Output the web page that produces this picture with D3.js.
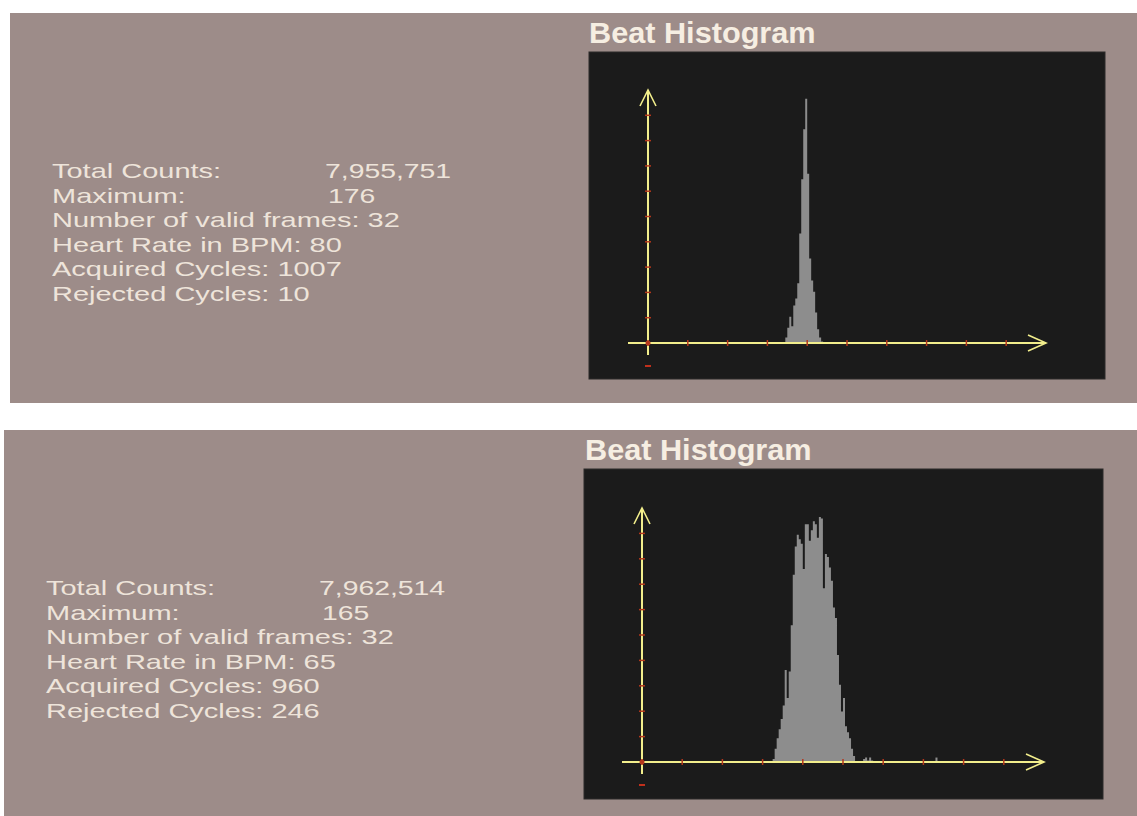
<!DOCTYPE html>
<html>
<head>
<meta charset="utf-8">
<script src="https://cdn.jsdelivr.net/npm/d3@7/dist/d3.min.js"></script>
<style>
  html, body { margin: 0; padding: 0; background: #ffffff; }
  svg { display: block; }
</style>
</head>
<body>
<svg id="chart" width="1137" height="816"></svg>
<script>
// ---------------- DATA ----------------
const panelTitles = ["Beat Histogram", "Beat Histogram"];

const statLabels = ["Total Counts:", "Maximum:", "Number of valid frames:", "Heart Rate in BPM:", "Acquired Cycles:", "Rejected Cycles:"];
const topStats    = ["7,955,751", "176", "32", "80", "1007", "10"];
const bottomStats = ["7,962,514", "165", "32", "65", "960", "246"];

// histogram x-axis ticks (bin index) and y maximum (counts)
const xTicks = [0, 20, 40, 60, 80, 100, 120, 140, 160, 180];
const xMaxBin = 200;
const topMaximum = 176;
const bottomMaximum = 165;

// top histogram: counts per bin starting at bin 69
const topFirstBin = 69;
const topCounts = [4, 11, 19, 12, 27, 32, 43, 79, 118, 154, 176, 122, 61, 45, 37, 22, 10, 4, 1];

// bottom histogram: counts per bin starting at bin 65
const bottomFirstBin = 65;
const bottomCounts = [2, 9, 16, 22, 29, 38, 62, 43, 61, 92, 126, 145, 153, 150, 147, 130, 160, 160, 149, 156,
                      162, 160, 151, 165, 164, 117, 140, 138, 131, 122, 104, 97, 72, 52, 34, 43, 24, 20, 16, 9,
                      4, 0, 0, 0, 0, 2, 3, 1, 3, 1];
// isolated small counts far to the right
const bottomExtraBins = [146];
const bottomExtraCounts = [3];

// ---------------- DRAW ----------------
const svg = d3.select("#chart");
const C = {
  panel: "#9d8c89",
  dark: "#1b1b1b",
  text: "#eee4da",
  title: "#f6eee2",
  axis: "#f2ee8c",
  tick: "#b4381c",
  bar: "#8d8d8d"
};
const FONT = "Liberation Sans, Arial, sans-serif";
const STRETCH = 1.38;   // the source text is horizontally wide
const ROW = 24.5;

const panels = [
  { px: 10, py: 13, pw: 1127, ph: 390, bx: 589, by: 52, bw: 516, bh: 327,
    ox: 648, oy: 343, xEnd: 1046, yTop: 90, textX: 52, valX: [325, 328], rowY: 178,
    stats: topStats, maximum: topMaximum, first: topFirstBin, counts: topCounts,
    extraBins: [], extraCounts: [], titleX: 589, titleY: 43 },
  { px: 4, py: 430, pw: 1133, ph: 386, bx: 584, by: 469, bw: 519, bh: 330,
    ox: 642, oy: 762, xEnd: 1044, yTop: 508, textX: 46, valX: [319, 322], rowY: 595,
    stats: bottomStats, maximum: bottomMaximum, first: bottomFirstBin, counts: bottomCounts,
    extraBins: bottomExtraBins, extraCounts: bottomExtraCounts, titleX: 585, titleY: 460 }
];

function stretchedText(g, x, y, str, size, sx, fill, weight) {
  return g.append("text")
    .attr("transform", `translate(${x},${y}) scale(${sx},1)`)
    .attr("fill", fill).attr("font-family", FONT)
    .attr("font-weight", weight || "normal")
    .attr("font-size", size).text(str);
}

panels.forEach((p, pi) => {
  const g = svg.append("g");
  g.append("rect").attr("x", p.px).attr("y", p.py).attr("width", p.pw).attr("height", p.ph).attr("fill", C.panel);

  // title
  stretchedText(g, p.titleX, p.titleY, panelTitles[pi], 29.5, 1.04, C.title, "bold");

  // stats text
  statLabels.forEach((lab, i) => {
    const yy = p.rowY + i * ROW;
    if (i < 2) {
      stretchedText(g, p.textX, yy, lab, 21, STRETCH, C.text);
      stretchedText(g, p.valX[i], yy, p.stats[i], 21, 1.35, C.text);
    } else {
      stretchedText(g, p.textX, yy, lab + " " + p.stats[i], 21, STRETCH, C.text);
    }
  });

  // dark plot box
  g.append("rect").attr("x", p.bx).attr("y", p.by).attr("width", p.bw).attr("height", p.bh)
    .attr("fill", C.dark).attr("stroke", "#2c2a2a").attr("stroke-width", 1);

  const x = d3.scaleLinear().domain([0, xMaxBin]).range([p.ox, p.xEnd]);
  const yMax = p.maximum / 0.965;
  const y = d3.scaleLinear().domain([0, yMax]).range([p.oy, p.yTop]);

  const area = d3.area()
    .x(d => x(d.bin)).y0(y(0)).y1(d => y(d.count))
    .curve(d3.curveStepAfter);

  const main = p.counts.map((c, i) => ({ bin: p.first + i, count: c }));
  main.push({ bin: p.first + p.counts.length, count: 0 });
  g.append("path").datum(main).attr("d", area).attr("fill", C.bar);

  p.extraBins.forEach((b, i) => {
    g.append("path").datum([{ bin: b, count: p.extraCounts[i] }, { bin: b + 1, count: 0 }])
      .attr("d", area).attr("fill", C.bar);
  });

  // axes
  const ax = g.append("g").attr("stroke", C.axis).attr("stroke-width", 2).attr("fill", "none");
  ax.append("line").attr("x1", p.ox - 20).attr("x2", x(xMaxBin)).attr("y1", p.oy).attr("y2", p.oy);
  ax.append("line").attr("x1", p.ox).attr("x2", p.ox).attr("y1", p.oy + 12).attr("y2", p.yTop);
  ax.append("path").attr("d", `M${x(xMaxBin) - 18},${p.oy - 8} L${x(xMaxBin)},${p.oy} L${x(xMaxBin) - 18},${p.oy + 8}`)
    .attr("stroke-width", 1.6);
  ax.append("path").attr("d", `M${p.ox - 8},${p.yTop + 16} L${p.ox},${p.yTop} L${p.ox + 8},${p.yTop + 16}`)
    .attr("stroke-width", 1.6);

  // ticks
  const tg = g.append("g").attr("stroke", C.tick).attr("stroke-width", 1.5);
  tg.selectAll("line.xt").data(xTicks).join("line").attr("class", "xt")
    .attr("x1", d => x(d)).attr("x2", d => x(d)).attr("y1", p.oy - 3).attr("y2", p.oy + 3);
  const yTicks = d3.range(1, 10).map(k => yMax * k / 10);
  tg.selectAll("line.yt").data(yTicks).join("line").attr("class", "yt")
    .attr("x1", p.ox - 3).attr("x2", p.ox + 3).attr("y1", d => y(d)).attr("y2", d => y(d));
  g.append("circle").attr("cx", p.ox).attr("cy", p.oy).attr("r", 2.5).attr("fill", C.tick);
  g.append("line").attr("x1", p.ox - 3).attr("x2", p.ox + 3).attr("y1", p.oy + 23).attr("y2", p.oy + 23)
    .attr("stroke", "#c0301c").attr("stroke-width", 2);
});
</script>
</body>
</html>
